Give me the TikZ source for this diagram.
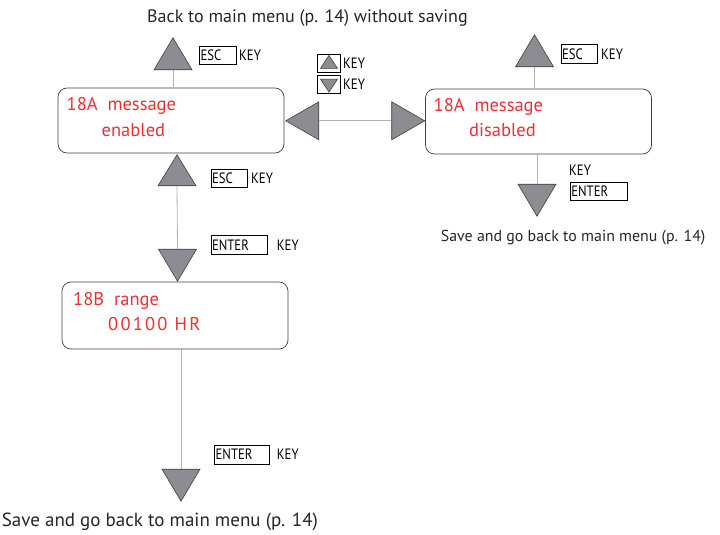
\documentclass[tikz,border=0pt]{standalone}
\usepackage{fontspec}
\setmainfont{PT Sans}
\newfontfamily\keyfont{PT Sans}[FakeStretch=0.85]
\usetikzlibrary{shapes.geometric}
\definecolor{lcdred}{RGB}{236,48,52}
\definecolor{arrowgray}{RGB}{140,140,146}
\definecolor{linegray}{RGB}{178,178,178}
\tikzset{
    screen/.style={draw=black!75, line width=0.7pt, rounded corners=9pt,
        minimum width=226pt, minimum height=65pt, inner sep=0pt},
    lcd/.style={anchor=base west, inner sep=0pt, text=lcdred,
        font=\fontsize{18.5}{20}\selectfont},
    tri/.style={isosceles triangle, isosceles triangle stretches,
        draw=black!75, fill=arrowgray, line width=0.6pt, inner sep=0pt,
        minimum width=38pt, minimum height=32pt},
    keybox/.style={draw, line width=0.6pt, anchor=west, inner xsep=1pt,
        inner ysep=0pt, minimum height=18.5pt, text width=#1, align=left,
        font=\keyfont\fontsize{15}{15}\selectfont},
    keytext/.style={anchor=west, inner sep=0pt,
        font=\keyfont\fontsize{15}{15}\selectfont},
    note/.style={anchor=base west, inner sep=0pt, text=black!85},
    wire/.style={draw=linegray, line width=0.8pt},
}
\begin{document}
\begin{tikzpicture}[x=1pt,y=-1pt]
\useasboundingbox (0,0) rectangle (720,535);
    %screens
    \node[screen] (en) at (171,120.5) {};
    \node[screen] (dis) at (538.5,121.5) {};
    \node[screen, minimum height=67pt] (rng) at (175,315.5) {};
    \node[lcd] (en1) at (66.5,110.5) {18A\ \ message};
    \node[lcd] (en2) at (101.5,136.5) {enabled};
    \node[lcd] (dis1) at (433.5,111.5) {18A\ \ message};
    \node[lcd] (dis2) at (469,136.5) {disabled};
    \node[lcd] (rng1) at (73,305) {18B\ \ range};
    \node[lcd] (rng2) at (108,330.5) {\addfontfeature{LetterSpace=12}00100 HR};
    %arrows
    \node[tri, shape border rotate=90, anchor=apex] (up1) at (173,37) {};
    \node[tri, shape border rotate=90, anchor=apex] (up2) at (534.5,34) {};
    \node[tri, shape border rotate=90, anchor=apex, minimum height=31pt] (up3) at (177,154) {};
    \node[tri, shape border rotate=270, anchor=apex] (dn3) at (177.5,282) {};
    \node[tri, shape border rotate=270, anchor=apex] (dn2) at (537,217) {};
    \node[tri, shape border rotate=270, anchor=apex] (dn4) at (181,502) {};
    \node[tri, shape border rotate=180, anchor=apex, minimum height=33pt] (lf) at (285,120.8) {};
    \node[tri, shape border rotate=0, anchor=apex, minimum height=33pt] (rt) at (425.5,120.8) {};
    %wires
    \draw[wire] (up1.lower side) -- (up1.lower side |- en.north);
    \draw[wire] (up2.lower side) -- (up2.lower side |- dis.north);
    \draw[wire] (dn2.lower side |- dis.south) -- (dn2.lower side);
    \draw[wire] (up3.lower side) -- (dn3.lower side);
    \draw[wire] (lf.lower side) -- (rt.lower side);
    \draw[wire] (dn4.lower side |- rng.south) -- (dn4.lower side);
    %keys
    \node[keybox=35pt] (esc1) at (199.3,55.5) {ESC};
    \node[keytext] (k1) at (239,55.5) {KEY};
    \node[keybox=34pt] (esc2) at (560.7,53.8) {ESC};
    \node[keytext] (k2) at (601,53.8) {KEY};
    \node[keybox=34pt] (esc3) at (210.7,178.4) {ESC};
    \node[keytext] (k3) at (251,178.4) {KEY};
    \node[keybox=54.6pt] (ent3) at (210.7,245) {ENTER};
    \node[keytext] (k4) at (276.7,245) {KEY};
    \node[keytext] (k5) at (569,170) {KEY};
    \node[keybox=54.7pt] (ent2) at (570,191.2) {ENTER};
    \node[keybox=53pt] (ent4) at (214.3,454.7) {ENTER};
    \node[keytext] (k6) at (276.7,454.7) {KEY};
    %up and down keys
    \node[draw, line width=0.6pt, minimum width=23.4pt, minimum height=18.7pt, inner sep=0pt] (kup) at (329,63.3) {};
    \node[tri, shape border rotate=90, minimum width=17pt, minimum height=13pt] (kupt) at (329,63.8) {};
    \node[keytext] (k7) at (343,63.3) {KEY};
    \node[draw, line width=0.6pt, minimum width=23.4pt, minimum height=18.3pt, inner sep=0pt] (kdn) at (329,84.2) {};
    \node[tri, shape border rotate=270, minimum width=17pt, minimum height=13pt] (kdnt) at (329,83.7) {};
    \node[keytext] (k8) at (343,84.2) {KEY};
    %notes
    \node[note, font=\fontsize{18}{18}\selectfont] (back) at (147,22.7) {Back to main menu (p. 14) without saving};
    \node[note, font=\fontsize{15.9}{16}\selectfont] (save1) at (440.7,241.7) {Save and go back to main menu (p. 14)};
    \node[note, font=\fontsize{19}{19}\selectfont] (save2) at (1.7,526.7) {Save and go back to main menu (p. 14)};
\end{tikzpicture}
\end{document}
